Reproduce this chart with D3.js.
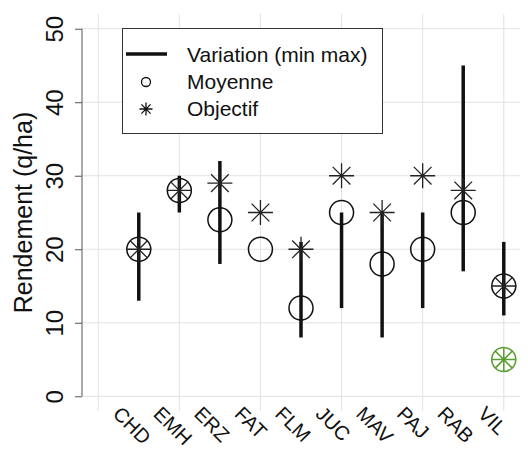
<!DOCTYPE html>
<html>
<head>
<meta charset="utf-8">
<script src="https://cdn.jsdelivr.net/npm/d3@7"></script>
<style>
  body { margin: 0; background: #fff; }
  svg { display: block; }
</style>
</head>
<body>
<svg></svg>
<script>
const categories = ['CHD', 'EMH', 'ERZ', 'FAT', 'FLM', 'JUC', 'MAV', 'PAJ', 'RAB', 'VIL'];
const minValues = [13, 25, 18, null, 8, 12, 8, 12, 17, 11];
const maxValues = [25, 30, 32, null, 21, 25, 25, 25, 45, 21];
const moyenne = [20, 28, 24, 20, 12, 25, 18, 20, 25, 15];
const objectif = [20, 28, 29, 25, 20, 30, 25, 30, 28, 15];
const highlightCats = ['VIL'];
const highlightValues = [5];
const yTicks = [0, 10, 20, 30, 40, 50];
const xGrid = [0, 2, 4, 6, 8, 10];
const legendLabels = ['Variation (min max)', 'Moyenne', 'Objectif'];

const WIDTH = 528;
const HEIGHT = 450;
const FONT = '"Liberation Sans", Arial, sans-serif';

const svg = d3.select('svg').
  attr('width', WIDTH).
  attr('height', HEIGHT).
  attr('font-family', FONT);

/* --SCALES-- */
const xScale = d3.scaleLinear().domain([-0.4, 10.4]).range([82, 520]);
const yScale = d3.scaleLinear().domain([-2, 52]).range([411, 14]);
const xPos = c => xScale(categories.indexOf(c) + 1);

// asterisk (8 spokes, like R pch 8)
function asterisk(r) {
  const p = d3.path();
  for (let i = 0; i < 4; i++) {
    const a = i * Math.PI / 4;
    p.moveTo(-r * Math.cos(a), -r * Math.sin(a));
    p.lineTo(r * Math.cos(a), r * Math.sin(a));
  }
  return p.toString();
}

/* --GRID-- */
svg.append('g').selectAll('line').
  data(yTicks).
  enter().
  append('line').
  attr('x1', xScale.range()[0]).
  attr('x2', xScale.range()[1]).
  attr('y1', d => yScale(d)).
  attr('y2', d => yScale(d)).
  attr('stroke', '#e2e2e2');

svg.append('g').selectAll('line').
  data(xGrid).
  enter().
  append('line').
  attr('x1', d => xScale(d)).
  attr('x2', d => xScale(d)).
  attr('y1', yScale.range()[1]).
  attr('y2', yScale.range()[0]).
  attr('stroke', '#e2e2e2');

/* --Y AXIS-- */
const yAxis = d3.axisLeft(yScale).tickValues(yTicks).tickSize(7).tickPadding(0);
const yAxisG = svg.append('g').
  attr('id', 'y-axis').
  attr('transform', `translate(${xScale.range()[0]}, 0)`).
  call(yAxis);
yAxisG.select('.domain').remove();
yAxisG.append('line').
  attr('y1', yScale(0)).
  attr('y2', yScale(50)).
  attr('stroke', '#555');
yAxisG.selectAll('.tick line').attr('stroke', '#555');
yAxisG.selectAll('.tick text').
  attr('font-size', 24).
  attr('font-family', FONT).
  attr('fill', '#111').
  attr('text-anchor', 'middle').
  attr('x', null).
  attr('dy', null).
  attr('transform', 'translate(-19, 0) rotate(-90)');

svg.append('text').
  text('Rendement (q/ha)').
  attr('transform', `translate(32, ${(yScale.range()[0] + yScale.range()[1]) / 2}) rotate(-90)`).
  attr('text-anchor', 'middle').
  attr('font-size', 25).
  attr('fill', '#111');

/* --X LABELS-- */
svg.append('g').selectAll('text').
  data(categories).
  enter().
  append('text').
  text(d => d).
  attr('transform', d => `translate(${xPos(d) - 27}, 415) rotate(45)`).
  attr('font-size', 20).
  attr('fill', '#111');

/* --DATA RENDERING-- */
const ranges = categories.map((c, i) => ({ cat: c, min: minValues[i], max: maxValues[i] })).
  filter(d => d.min !== null);

svg.append('g').selectAll('line').
  data(ranges).
  enter().
  append('line').
  attr('x1', d => xPos(d.cat)).
  attr('x2', d => xPos(d.cat)).
  attr('y1', d => yScale(d.min)).
  attr('y2', d => yScale(d.max)).
  attr('stroke', '#111').
  attr('stroke-width', 3.5);

svg.append('g').selectAll('circle').
  data(categories).
  enter().
  append('circle').
  attr('cx', d => xPos(d)).
  attr('cy', (d, i) => yScale(moyenne[i])).
  attr('r', 12).
  attr('fill', 'none').
  attr('stroke', '#111').
  attr('stroke-width', 1.5);

svg.append('g').selectAll('path').
  data(categories).
  enter().
  append('path').
  attr('d', asterisk(12.5)).
  attr('transform', (d, i) => `translate(${xPos(d)}, ${yScale(objectif[i])})`).
  attr('fill', 'none').
  attr('stroke', '#222').
  attr('stroke-width', 1.3);

// green marker
const hl = svg.append('g').selectAll('g').
  data(highlightCats).
  enter().
  append('g').
  attr('transform', (d, i) => `translate(${xPos(d)}, ${yScale(highlightValues[i])})`);
hl.append('circle').
  attr('r', 12).
  attr('fill', 'none').
  attr('stroke', '#5c9e32').
  attr('stroke-width', 1.6);
hl.append('path').
  attr('d', asterisk(12.5)).
  attr('fill', 'none').
  attr('stroke', '#5c9e32').
  attr('stroke-width', 1.6);

/* --LEGEND-- */
const legendG = svg.append('g').attr('id', 'legend');
legendG.append('rect').
  attr('x', 122.5).
  attr('y', 28.5).
  attr('width', 260).
  attr('height', 105).
  attr('fill', '#fff').
  attr('stroke', '#333');

legendG.append('line').
  attr('x1', 126).
  attr('x2', 167).
  attr('y1', 54).
  attr('y2', 54).
  attr('stroke', '#111').
  attr('stroke-width', 3.5);
legendG.append('circle').
  attr('cx', 146).
  attr('cy', 82).
  attr('r', 4.5).
  attr('fill', 'none').
  attr('stroke', '#111').
  attr('stroke-width', 1.3);
legendG.append('path').
  attr('d', asterisk(6.5)).
  attr('transform', 'translate(146, 109)').
  attr('fill', 'none').
  attr('stroke', '#111').
  attr('stroke-width', 1.3);

legendG.selectAll('text').
  data(legendLabels).
  enter().
  append('text').
  text(d => d).
  attr('x', 187).
  attr('y', (d, i) => 62 + i * 27).
  attr('font-size', 21).
  attr('fill', '#111');
</script>
</body>
</html>
